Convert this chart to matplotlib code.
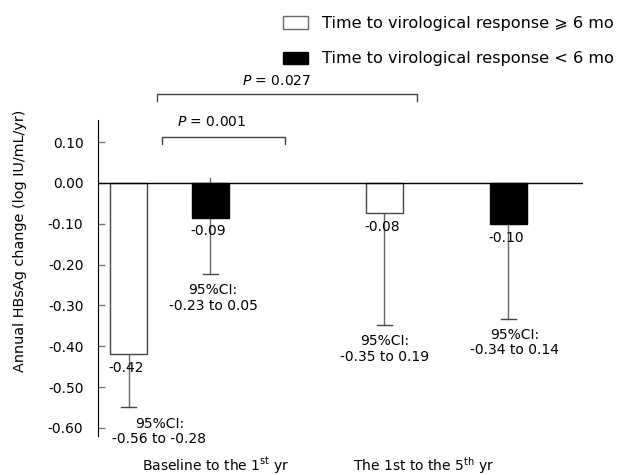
import matplotlib
matplotlib.use("Agg")
import matplotlib.pyplot as plt
from matplotlib.patches import Patch

plt.rcParams['font.family'] = ['DejaVu Sans']
plt.rcParams['mathtext.fontset'] = 'dejavusans'
plt.rcParams['font.size'] = 10

# bars, left to right
x_pos = [30.5, 112, 286, 410]
means = [-0.42, -0.085, -0.075, -0.10]
mean_labels = ['-0.42', '-0.09', '-0.08', '-0.10']
err_low = [-0.55, -0.223, -0.348, -0.333]
err_high = [-0.42, 0.012, -0.075, -0.10]
ci_labels = ['95%CI:\n-0.56 to -0.28', '95%CI:\n-0.23 to 0.05',
             '95%CI:\n-0.35 to 0.19', '95%CI:\n-0.34 to 0.14']
ci_dx = [31, 3, 1, 7]
fills = ['white', 'black', 'white', 'black']
edges = ['#444444', 'black', '#444444', 'black']

group_x = [118, 326]
group_labels = ['Baseline to the 1$^{\\mathrm{st}}$ yr', 'The 1st to the 5$^{\\mathrm{th}}$ yr']

legend_labels = ['Time to virological response \u2a7e 6 mo', 'Time to virological response < 6 mo']

# significance brackets: (x0, x1, y, label, label_x, label_y)
brackets = [(64, 187, 0.113, '$P$ = 0.001', 114, 0.15),
            (59, 319, 0.218, '$P$ = 0.027', 179, 0.25)]

fig = plt.figure(figsize=(6.36, 4.75), dpi=100)
ax = fig.add_axes([98 / 636, 1 - 436 / 475, 485 / 636, 316 / 475])

ax.bar(x_pos, means, width=37, color=fills, edgecolor=edges, linewidth=1, zorder=2)
for x, lo, hi in zip(x_pos, err_low, err_high):
    ax.plot([x, x], [lo, hi], color='#666666', lw=1, zorder=1)
    ax.plot([x - 7.5, x + 7.5], [lo, lo], color='#444444', lw=1, zorder=1)

for x, m, lab in zip(x_pos, means, mean_labels):
    ax.text(x - 2, m - 0.034, lab, ha='center', va='center', zorder=3)
for x, lo, lab, dx in zip(x_pos, err_low, ci_labels, ci_dx):
    ax.text(x + dx, lo - 0.059, lab, ha='center', va='center', linespacing=1.1)

ax.axhline(0, color='black', lw=1, zorder=3)

for x0, x1, y, lab, lx, ly in brackets:
    ax.plot([x0, x0, x1, x1], [y - 0.018, y, y, y - 0.018], color='#444444', lw=1, clip_on=False)
    ax.text(lx, ly, lab, ha='center', va='center', clip_on=False)

for gx, gl in zip(group_x, group_labels):
    ax.text(gx, -0.692, gl, ha='center', va='center', clip_on=False)

ax.set_xlim(0, 485)
ax.set_ylim(-0.62, 0.154)
ax.set_yticks([0.10, 0.00, -0.10, -0.20, -0.30, -0.40, -0.50, -0.60])
ax.set_yticklabels(['0.10', '0.00', '-0.10', '-0.20', '-0.30', '-0.40', '-0.50', '-0.60'])
ax.set_xticks([])
ax.tick_params(axis='y', direction='in', length=5, width=1, color='#777777', pad=10.5)
for s in ['top', 'right', 'bottom']:
    ax.spines[s].set_visible(False)
ax.spines['left'].set_color('black')

fig.text(20 / 636, 1 - 241 / 475, 'Annual HBsAg change (log IU/mL/yr)',
         rotation=90, ha='center', va='center', fontsize=10.4)

handles = [Patch(facecolor='white', edgecolor='#666666'), Patch(facecolor='black', edgecolor='black')]
fig.legend(handles, legend_labels, loc='upper left', bbox_to_anchor=(283 / 636, 1 - 16 / 475),
           frameon=False, borderpad=0, borderaxespad=0, handlelength=1.56, handleheight=0.8,
           handletextpad=0.85, labelspacing=1.27, fontsize=11.6)

fig.savefig('out.png', dpi=100)
